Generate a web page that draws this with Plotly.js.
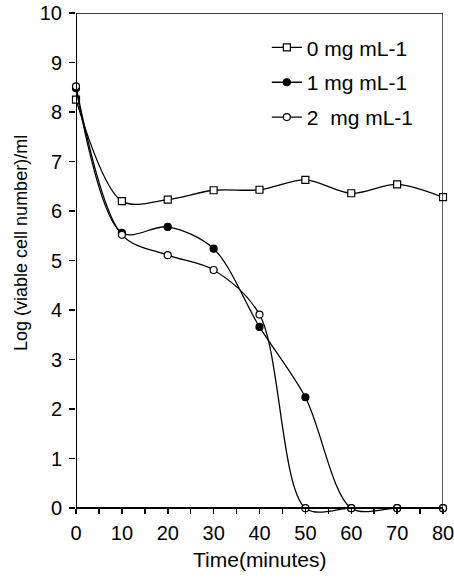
<!DOCTYPE html>
<html>
<head>
<meta charset="utf-8">
<script src="https://cdn.plot.ly/plotly-3.0.1.min.js"></script>
<style>html,body{margin:0;padding:0;background:#fff;}#chart{width:454px;height:579px;}</style>
</head>
<body>
<div id="chart"></div>
<script>
// Data
const time = [0, 10, 20, 30, 40, 50, 60, 70, 80];
const conc0 = [8.25, 6.2, 6.23, 6.42, 6.43, 6.63, 6.36, 6.54, 6.28];
const conc1 = [8.48, 5.56, 5.68, 5.24, 3.66, 2.24, 0, 0, 0];
const conc2 = [8.52, 5.52, 5.11, 4.81, 3.91, 0, 0, 0, 0];
const seriesNames = ['0 mg mL-1', '1 mg mL-1', '2\u00a0 mg mL-1'];
const xTitle = 'Time(minutes)';
const yTitle = 'Log (viable cell number)/ml';

const FONT = 'Liberation Sans, Arial, sans-serif';
const yMin = -0.3, yMax = 10;

function tr(y, name, symbol, fill, grp) {
  return {
    x: time, y: y, name: name, type: 'scatter', mode: 'lines+markers',
    legendgroup: grp,
    line: {color: '#000', width: 1.3, shape: 'spline', smoothing: 0.9},
    marker: {symbol: symbol, size: 7, color: fill, line: {color: '#000', width: 1.2}},
    cliponaxis: false
  };
}

const data = [
  tr(conc0, seriesNames[0], 'square', '#fff', 'a'),
  tr(conc1, seriesNames[1], 'circle', '#000', 'b'),
  tr(conc2, seriesNames[2], 'circle', '#fff', 'c')
];

const layout = {
  width: 454, height: 579,
  margin: {l: 76, r: 11, t: 13, b: 56, pad: 0},
  paper_bgcolor: '#fff', plot_bgcolor: '#fff',
  font: {family: FONT, size: 20, color: '#000'},
  showlegend: true,
  legend: {
    x: 0.52, y: 0.972, xanchor: 'left', yanchor: 'top',
    bgcolor: 'rgba(0,0,0,0)', borderwidth: 0,
    font: {family: FONT, size: 21, color: '#000'},
    tracegroupgap: 4.5, traceorder: 'grouped'
  },
  xaxis: {
    range: [0, 80], tick0: 0, dtick: 10,
    anchor: 'free', position: (0 - yMin) / (yMax - yMin),
    showline: true, linecolor: '#000', linewidth: 2,
    ticks: 'outside', ticklen: 5, tickwidth: 1.5, tickcolor: '#000',
    minor: {dtick: 5, ticks: 'outside', ticklen: 5, tickwidth: 1.5, tickcolor: '#000'},
    ticklabelstandoff: 2, ticklabeloverflow: 'allow',
    showgrid: false, zeroline: false,
    tickfont: {family: FONT, size: 20, color: '#000'},
    fixedrange: true
  },
  yaxis: {
    range: [yMin, yMax], tick0: 0, dtick: 1,
    showline: false,
    ticks: 'outside', ticklen: 6, tickwidth: 1.5, tickcolor: '#000',
    ticklabelstandoff: 3, ticklabeloverflow: 'allow',
    showgrid: false, zeroline: false,
    tickfont: {family: FONT, size: 20, color: '#000'},
    fixedrange: true
  },
  shapes: [
    {type: 'line', xref: 'x', yref: 'y', x0: 0, x1: 0, y0: 0, y1: yMax, line: {color: '#000', width: 2}},
    {type: 'line', xref: 'x', yref: 'y', x0: 0, x1: 80, y0: yMax, y1: yMax, line: {color: '#000', width: 1.3}},
    {type: 'line', xref: 'x', yref: 'y', x0: 80, x1: 80, y0: 0, y1: yMax, line: {color: '#000', width: 1.3}}
  ],
  annotations: [
    {text: xTitle, xref: 'paper', yref: 'paper', x: 0.5, y: -0.072, xanchor: 'center', yanchor: 'middle',
     showarrow: false, font: {family: FONT, size: 21, color: '#000'}},
    {text: yTitle, xref: 'paper', yref: 'paper', x: -0.15, y: 0.549, xanchor: 'center', yanchor: 'middle',
     textangle: -90, showarrow: false, font: {family: FONT, size: 18, color: '#000'}}
  ]
};

Plotly.newPlot('chart', data, layout, {displayModeBar: false, staticPlot: true});
</script>
</body>
</html>
